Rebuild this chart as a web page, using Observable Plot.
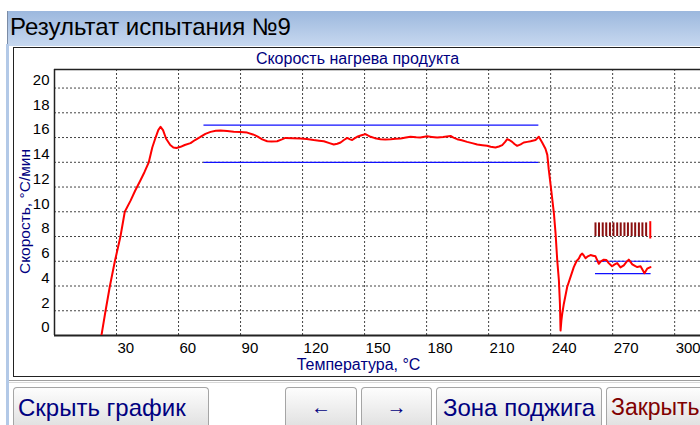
<!DOCTYPE html>
<html>
<head>
<meta charset="utf-8">
<script src="https://cdn.jsdelivr.net/npm/d3@7"></script>
<script src="https://cdn.jsdelivr.net/npm/@observablehq/plot@0.6"></script>
<style>
  html, body { margin: 0; padding: 0; background: #fff; }
  #root { position: relative; width: 700px; height: 425px; overflow: hidden; background: #fff;
          font-family: "Liberation Sans", Arial, sans-serif; }
  .titlebar { position: absolute; left: 7px; top: 11px; width: 693px; height: 35px;
              background: linear-gradient(#9cb8de, #c7d8ef); border-left: 1px solid #7a8ba5; box-sizing: border-box;
              font-size: 24px; color: #000; line-height: 31px; padding-left: 2px; white-space: nowrap; }
  .leftbar { position: absolute; left: 6px; top: 44px; width: 3px; height: 390px; background: #b3c9e7; }
  .panel { position: absolute; left: 13px; top: 47px; width: 700px; height: 330px; background: #fff;
           border: 1px solid #222; box-sizing: border-box; }
  .sep { position: absolute; left: 9px; top: 380px; width: 691px; height: 3px; box-sizing: border-box;
         border-top: 1px solid #a0a0a0; border-bottom: 1px solid #d8d8d8; }
  #chart { position: absolute; left: 0; top: 0; }
  .btn { position: absolute; top: 387px; height: 38px; box-sizing: border-box;
         background: linear-gradient(#fdfdfd, #e2e2e2); border: 1px solid #a5a5a5; border-bottom: none;
         border-radius: 4px 4px 0 0;
         font-size: 24px; color: #000080; display: flex; align-items: center; justify-content: center;
         padding-top: 2px; white-space: nowrap; }
</style>
</head>
<body>
<div id="root">
  <div class="titlebar">Результат испытания №9</div>
  <div class="leftbar"></div>
  <div class="panel"></div>
  <div class="sep"></div>
  <div id="chart"></div>
  <div class="btn" style="left:13px;width:196px;justify-content:flex-start;padding-left:4px;">Скрыть график</div>
  <div class="btn" style="left:285px;width:72px;font-size:20px;">←</div>
  <div class="btn" style="left:361px;width:71px;font-size:20px;">→</div>
  <div class="btn" style="left:436px;width:166px;">Зона поджига</div>
  <div class="btn" style="left:606px;width:94px;justify-content:flex-start;padding-left:4px;font-size:23px;color:#800000;border-right:none;border-top-right-radius:0;">Закрыть</div>
</div>
<script>
// Heating rate curve (temperature °C, rate °C/min)
const temps = [22.7, 24.7, 26.8, 29.2, 31.9, 34.0, 36.8, 39.0, 41.6, 43.5, 45.6, 47.3, 48.9, 50.2, 51.3, 52.5, 54.0, 56.0, 57.5, 59.0,
  61.0, 63.0, 65.8, 68.0, 70.6, 73.0, 75.5, 78.0, 80.3, 83.5, 86.7, 90.0, 93.2, 96.0, 98.1, 100.5, 102.9, 105.0, 107.7, 110.0,
  111.7, 115.0, 119.0, 122.0, 125.4, 128.0, 130.3, 133.0, 135.1, 136.8, 138.4, 140.0, 141.6, 143.0, 144.0, 145.3, 146.4, 148.5, 150.4, 151.8,
  152.9, 155.0, 157.7, 160.0, 162.6, 165.0, 167.4, 170.0, 172.2, 175.0, 177.0, 180.3, 182.5, 185.1, 188.0, 191.6, 193.0, 194.8, 197.0, 199.6,
  202.0, 204.5, 207.0, 209.3, 211.0, 213.3, 215.0, 216.6, 218.0, 219.0, 220.2, 221.4, 222.5, 223.8, 225.5, 227.0, 228.7, 230.3, 232.7, 234.3,
  235.9, 237.5, 238.4, 239.1, 240.3, 241.6, 242.4, 243.2, 244.0, 244.5, 244.8, 245.2, 245.6, 246.4, 248.0, 249.6, 251.2, 252.5, 253.6, 254.5,
  255.3, 256.1, 256.9, 258.0, 259.3, 260.5, 261.7, 263.3, 264.3, 265.7, 267.0, 268.1, 269.7, 271.0, 272.2, 273.8, 275.4, 276.7, 277.8, 279.5,
  281.0, 281.9, 283.5, 285.4, 286.7, 288.3];
const rates = [0.0, 2.0, 4.0, 6.0, 8.0, 10.0, 10.9, 11.7, 12.55, 13.2, 14.0, 15.2, 16.0, 16.6, 16.87, 16.6, 15.9, 15.4, 15.2, 15.15,
  15.25, 15.4, 15.55, 15.8, 16.05, 16.3, 16.46, 16.55, 16.57, 16.52, 16.46, 16.45, 16.4, 16.25, 16.1, 15.85, 15.7, 15.68, 15.7, 15.85,
  15.97, 15.95, 15.92, 15.88, 15.8, 15.75, 15.7, 15.55, 15.44, 15.5, 15.6, 15.8, 15.97, 15.85, 15.8, 15.95, 16.06, 16.18, 16.28, 16.15,
  16.06, 15.95, 15.87, 15.85, 15.87, 15.9, 15.93, 16.0, 16.06, 16.02, 16.0, 16.1, 16.05, 16.0, 16.05, 16.13, 16.0, 15.87, 15.78, 15.65,
  15.55, 15.44, 15.38, 15.33, 15.25, 15.2, 15.28, 15.39, 15.65, 15.87, 15.78, 15.65, 15.48, 15.33, 15.45, 15.6, 15.65, 15.7, 15.8, 16.06,
  15.6, 15.1, 14.6, 13.4, 11.74, 9.85, 8.23, 6.07, 4.45, 2.57, 0.4, 1.2, 1.75, 2.57, 3.92, 4.72, 5.53, 6.0, 6.21, 6.5,
  6.62, 6.45, 6.25, 6.4, 6.5, 6.45, 6.4, 5.8, 6.0, 6.13, 6.1, 5.85, 5.6, 5.75, 5.85, 5.5, 5.67, 5.95, 6.13, 5.75,
  5.6, 5.53, 5.59, 5.04, 5.4, 5.53];

// Limit lines (blue)
const limitX1 = [72.3, 72.3, 261.7, 261.7];
const limitX2 = [234.3, 234.3, 288.6, 288.6];
const limitY = [17, 14, 6, 5];

// Ignition-zone marker ticks
const markX = [261.7, 263.4, 265.2, 266.9, 268.7, 270.4, 272.2, 273.9, 275.7, 277.4, 279.2, 280.9, 282.7, 284.4, 286.2];
const markLow = 8.0, markHigh = 9.1;
const markEndX = [288.2];
const markEndLow = 7.8, markEndHigh = 9.2;

// Axes
const xDomain = [0, 312.5];
const yDomain = [0, 21.5];
const xTicks = [30, 60, 90, 120, 150, 180, 210, 240, 270, 300];
const yTicks = [0, 2, 4, 6, 8, 10, 12, 14, 16, 18, 20];
const yGrid = [2, 4, 6, 8, 10, 12, 14, 16, 18, 20];

const chartTitle = "Скорость нагрева продукта";
const xTitle = "Температура, °С";
const yTitle = "Скорость, °С/мин";

const curve = temps.map((t, i) => ({t, r: rates[i]}));
const limits = limitY.map((y, i) => ({x1: limitX1[i], x2: limitX2[i], y}));

const navy = "#000080";
const plot = Plot.plot({
  width: 700,
  height: 425,
  marginLeft: 54,
  marginRight: 0,
  marginTop: 69,
  marginBottom: 90,
  x: {domain: xDomain, axis: null},
  y: {domain: yDomain, axis: null},
  style: {background: "transparent", fontFamily: "'Liberation Sans', Arial, sans-serif", fontSize: "14px", color: "#000", overflow: "visible"},
  marks: [
    Plot.ruleY(yGrid, {stroke: "#444", strokeDasharray: "2,2", strokeWidth: 1}),
    Plot.ruleX(xTicks, {stroke: "#444", strokeDasharray: "2,2", strokeWidth: 1}),
    Plot.ruleX([xDomain[0]], {stroke: "#222", strokeWidth: 1.5}),
    Plot.ruleY([yDomain[1]], {stroke: "#222", strokeWidth: 1.5}),
    Plot.ruleY([yDomain[0]], {stroke: "#222", strokeWidth: 2}),
    Plot.ruleY(limits, {y: "y", x1: "x1", x2: "x2", stroke: "#1010ff", strokeWidth: 1.2}),
    Plot.ruleX(markX, {y1: markLow, y2: markHigh, stroke: "#8b1010", strokeWidth: 2}),
    Plot.ruleX(markEndX, {y1: markEndLow, y2: markEndHigh, stroke: "#ff0000", strokeWidth: 2}),
    Plot.line(curve, {x: "t", y: "r", stroke: "#ff0000", strokeWidth: 2, clip: true}),
    Plot.text(yTicks, {y: d => d, text: d => String(d), frameAnchor: "left", textAnchor: "end", lineAnchor: "middle", dx: -5, dy: -8, fill: "#000", fontSize: 15}),
    Plot.text(xTicks, {x: d => d, text: d => String(d), frameAnchor: "bottom", textAnchor: "start", lineAnchor: "middle", dx: 1, dy: 13, fill: "#000", fontSize: 15}),
    Plot.text([chartTitle], {text: d => d, frameAnchor: "top", textAnchor: "middle", lineAnchor: "middle", dx: -20, dy: -11, fill: navy, fontSize: 16}),
    Plot.text([xTitle], {text: d => d, frameAnchor: "bottom", textAnchor: "middle", lineAnchor: "middle", dx: -19, dy: 29, fill: navy, fontSize: 16}),
    Plot.text([yTitle], {text: d => d, frameAnchor: "left", textAnchor: "middle", lineAnchor: "middle", rotate: -90, dx: -29, dy: 9, fill: navy, fontSize: 15.5})
  ]
});
document.getElementById("chart").appendChild(plot);
</script>
</body>
</html>
